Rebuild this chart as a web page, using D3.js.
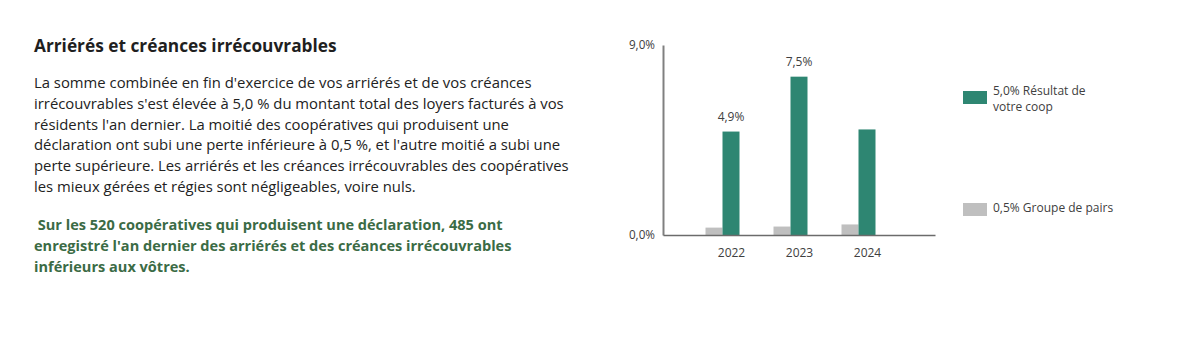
<!DOCTYPE html>
<html lang="fr">
<head>
<meta charset="utf-8">
<script src="https://cdn.jsdelivr.net/npm/d3@7"></script>
<style>
  html, body { margin: 0; padding: 0; background: #ffffff; }
  svg { display: block; }
  text { font-family: "Open Sans", "Noto Sans", sans-serif; }
</style>
</head>
<body>
<svg id="chart" width="1182" height="343"></svg>
<script>
// ---- Data ----
const years = ["2022", "2023", "2024"];
const coopValues = [4.9, 7.5, 5.0];      // Résultat de votre coop (%)
const peerValues = [0.35, 0.4, 0.5];     // Groupe de pairs (%)
const valueLabels = ["4,9%", "7,5%", null];
const yTicks = [0, 9];
const legendLabels = [["5,0% Résultat de", "votre coop"], ["0,5% Groupe de pairs"]];

const title = "Arriérés et créances irrécouvrables";
const bodyLines = [
  "La somme combinée en fin d'exercice de vos arriérés et de vos créances",
  "irrécouvrables s'est élevée à 5,0 % du montant total des loyers facturés à vos",
  "résidents l'an dernier. La moitié des coopératives qui produisent une",
  "déclaration ont subi une perte inférieure à 0,5 %, et l'autre moitié a subi une",
  "perte supérieure. Les arriérés et les créances irrécouvrables des coopératives",
  "les mieux gérées et régies sont négligeables, voire nuls."
];
const highlightLines = [
  "\u00a0Sur les 520 coopératives qui produisent une déclaration, 485 ont",
  "enregistré l'an dernier des arriérés et des créances irrécouvrables",
  "inférieurs aux vôtres."
];

// ---- Styles ----
const GREEN = "#2e8672";
const GREY = "#bfbfbf";
const TEXT = "#404040";

const svg = d3.select("#chart");

// ---- Text block ----
svg.append("text")
  .attr("x", 34).attr("y", 52)
  .attr("font-size", 17.3).attr("font-weight", 700)
  .attr("fill", "#1f1f1f")
  .text(title);

const lineH = 20.8;
svg.append("g").selectAll("text").data(bodyLines).join("text")
  .attr("x", 34).attr("y", (d, i) => 88 + i * lineH)
  .attr("font-size", 14.85).attr("fill", "#222222")
  .text(d => d);

svg.append("g").selectAll("text").data(highlightLines).join("text")
  .attr("x", 34).attr("y", (d, i) => 230 + i * lineH)
  .attr("font-size", 14.55).attr("font-weight", 700).attr("fill", "#3b6b45")
  .text(d => d);

// ---- Chart ----
const x = d3.scalePoint().domain(years).range([663, 935]).padding(1);
const y = d3.scaleLinear().domain([0, 9]).range([235, 45]);
const barW = 17;
const fmt = v => v.toFixed(1).replace(".", ",") + "%";

// Peer bars (left of each coop bar)
svg.append("g").selectAll("rect").data(years).join("rect")
  .attr("x", d => x(d) - barW * 1.5)
  .attr("width", barW)
  .attr("y", (d, i) => y(peerValues[i]))
  .attr("height", (d, i) => y(0) - y(peerValues[i]))
  .attr("fill", GREY);

// Coop bars
svg.append("g").selectAll("rect").data(years).join("rect")
  .attr("x", d => x(d) - barW / 2)
  .attr("width", barW)
  .attr("y", (d, i) => y(coopValues[i]))
  .attr("height", (d, i) => y(0) - y(coopValues[i]))
  .attr("fill", GREEN);

// Value labels above coop bars
svg.append("g").selectAll("text")
  .data(years.map((d, i) => ({ year: d, v: coopValues[i], label: valueLabels[i] })).filter(d => d.label))
  .join("text")
  .attr("x", d => x(d.year))
  .attr("y", d => y(d.v) - 11)
  .attr("text-anchor", "middle")
  .attr("font-size", 12).attr("fill", TEXT)
  .text(d => d.label);

// Y axis
const yAxis = svg.append("g")
  .attr("transform", "translate(663,0)")
  .call(d3.axisLeft(y).tickValues(yTicks).tickSize(0).tickPadding(8).tickFormat(fmt));
yAxis.select(".domain").attr("stroke", "#808080").attr("stroke-width", 2);
yAxis.selectAll("text").attr("font-size", 11.7).attr("fill", TEXT)
  .attr("font-family", "\"Open Sans\", sans-serif");

// X axis
const xAxis = svg.append("g")
  .attr("transform", "translate(0,235)")
  .call(d3.axisBottom(x).tickSize(0).tickPadding(13));
xAxis.select(".domain").attr("stroke", "#6b6b6b").attr("stroke-width", 1.6);
xAxis.selectAll("text").attr("font-size", 12).attr("fill", TEXT)
  .attr("font-family", "\"Open Sans\", sans-serif");

// ---- Legend ----
const legend = [
  { color: GREEN, lines: legendLabels[0], ry: 91, ty: 94.5 },
  { color: GREY, lines: legendLabels[1], ry: 203, ty: 212 }
];
const lg = svg.append("g").selectAll("g").data(legend).join("g");
lg.append("rect")
  .attr("x", 963).attr("y", d => d.ry)
  .attr("width", 24).attr("height", 13)
  .attr("fill", d => d.color);
lg.append("text")
  .attr("font-size", 12).attr("fill", TEXT)
  .selectAll("tspan").data(d => d.lines.map((t, i) => ({ t, i, ty: d.ty }))).join("tspan")
  .attr("x", 993).attr("y", d => d.ty + d.i * 16)
  .text(d => d.t);
</script>
</body>
</html>
